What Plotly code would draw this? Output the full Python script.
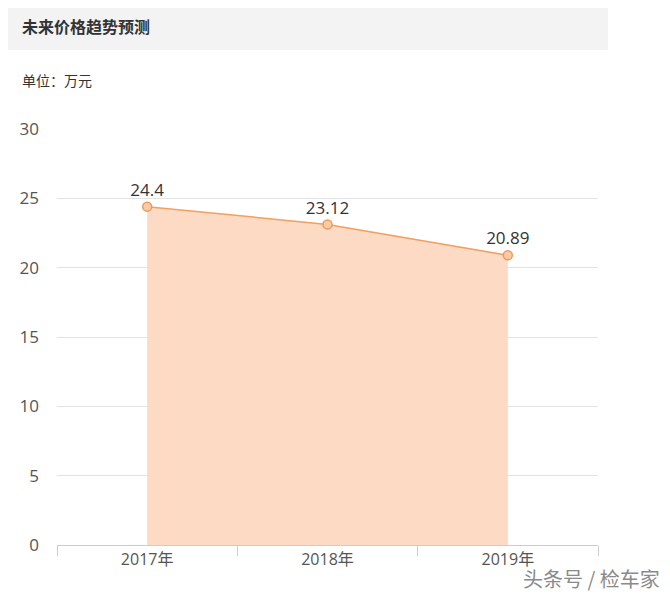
import plotly.graph_objects as go

years = ["2017年", "2018年", "2019年"]
prices = [24.4, 23.12, 20.89]
price_labels = ["24.4", "23.12", "20.89"]
y_ticks = [0, 5, 10, 15, 20, 25, 30]

# page body has an 8px margin; work in screen coords and shift
OFF = 8
W, H = 670 - OFF, 597 - OFF
L, R, T, B = 55 - OFF, 598 - OFF, 129 - OFF, 545 - OFF
pw, ph = R - L, B - T

def px(x):
    return (x - OFF - L) / pw

def py(y):
    return (B - (y - OFF)) / ph

fig = go.Figure()
fig.add_trace(go.Scatter(
    x=years, y=prices, mode="lines+markers+text",
    text=price_labels, textposition="top center",
    textfont=dict(size=17, color="#333333", family="Open Sans, Noto Sans, sans-serif"),
    line=dict(color="#f0a060", width=1.5),
    marker=dict(size=9, color="#fbcaa6", line=dict(color="#ee9a5a", width=1.5)),
    fill="tozeroy", fillcolor="rgba(252,216,192,0.95)",
    hoverinfo="skip", cliponaxis=False,
))

fig.update_layout(
    width=W, height=H,
    margin=dict(l=L, r=W - R, t=T, b=H - B),
    paper_bgcolor="white", plot_bgcolor="white",
    showlegend=False,
    font=dict(family="Noto Sans CJK SC, sans-serif", color="#555555"),
    xaxis=dict(
        type="category", tickson="boundaries", ticks="outside", ticklen=10,
        tickcolor="#cccccc", showgrid=False, showline=True, linecolor="#cccccc",
        tickfont=dict(size=16, color="#555555", family="Open Sans, Noto Sans CJK SC"),
        range=[-0.5, 2.5], fixedrange=True,
    ),
    yaxis=dict(
        range=[0, 30], tickvals=y_ticks, showgrid=True, gridcolor="#e2e2e2",
        zeroline=False, showline=False, ticks="",
        tickfont=dict(size=17, color="#555555", family="Open Sans, Noto Sans"),
        ticklabelstandoff=17,
    ),
    shapes=[dict(
        type="rect", xref="paper", yref="paper",
        x0=px(3), x1=px(608), y0=py(50), y1=py(3),
        fillcolor="#f3f3f3", line=dict(width=0), layer="below",
    )],
    annotations=[
        dict(text="<b>未来价格趋势预测</b>", xref="paper", yref="paper",
             x=px(18), y=py(26), xanchor="left", yanchor="middle", showarrow=False,
             font=dict(size=16, color="#333333", family="Noto Sans CJK SC")),
        dict(text="单位：万元", xref="paper", yref="paper",
             x=px(18), y=py(80), xanchor="left", yanchor="middle", showarrow=False,
             font=dict(size=14, color="#333333", family="Noto Sans CJK SC")),
        dict(text="头条号 / 检车家", xref="paper", yref="paper",
             x=px(662), y=py(578), xanchor="right", yanchor="middle", showarrow=False,
             font=dict(size=20, color="#8a8a8a", family="Noto Sans CJK SC")),
    ],
)

fig.write_html("out.html")
